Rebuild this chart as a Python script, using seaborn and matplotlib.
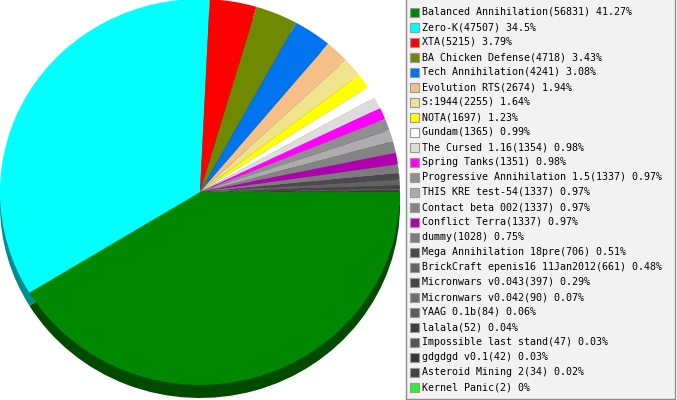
import numpy as np
import matplotlib
matplotlib.use("Agg")
import matplotlib.pyplot as plt
import matplotlib.colors as mcolors
from matplotlib.patches import Rectangle
import seaborn as sns

# games and how many times each was played
games = [
    "Balanced Annihilation", "Zero-K", "XTA", "BA Chicken Defense",
    "Tech Annihilation", "Evolution RTS", "S:1944", "NOTA", "Gundam",
    "The Cursed 1.16", "Spring Tanks", "Progressive Annihilation 1.5",
    "THIS KRE test-54", "Contact beta 002", "Conflict Terra", "dummy",
    "Mega Annihilation 18pre", "BrickCraft epenis16 11Jan2012",
    "Micronwars v0.043", "Micronwars v0.042", "YAAG 0.1b", "lalala",
    "Impossible last stand", "gdgdgd v0.1", "Asteroid Mining 2", "Kernel Panic",
]
counts = [
    56831, 47507, 5215, 4718, 4241, 2674, 2255, 1697, 1365, 1354, 1351,
    1337, 1337, 1337, 1337, 1028, 706, 661, 397, 90, 84, 52, 47, 42, 34, 2,
]
colors = [
    "#008800", "#00ffff", "#ff0000", "#6f8a00", "#0073ee", "#f5bf88",
    "#efe38c", "#ffff00", "#ffffff", "#dcdcdc", "#ff00ff", "#8f8f8f",
    "#adadad", "#848484", "#b000b0", "#7c7c7c", "#4a4a4a", "#626262",
    "#464646", "#6e6e6e", "#5c5c5c", "#3e3e3e", "#565656", "#363636",
    "#434343", "#33ee33",
]

sns.set_style("white")
plt.rcParams["font.family"] = ["DejaVu Sans Mono", "DejaVu Sans"]

fig = plt.figure(figsize=(6.77, 4.0), dpi=100)

# pie area: 400x400 px, slightly squashed vertically, with a dark "side"
ax = fig.add_axes([0, 0, 400 / 677, 1])
ry, rx, depth = 193.0, 200.0, 13.0
sy = rx / ry  # data units per px vertically
cx, cy = 200.0, (400 - 192) * sy

shadow = [tuple(np.array(mcolors.to_rgb(c)) * 0.55) for c in colors]
ax.pie(counts, colors=shadow, startangle=0, counterclock=False, radius=rx,
       center=(cx, cy - depth * sy), wedgeprops=dict(linewidth=0))
ax.pie(counts, colors=colors, startangle=0, counterclock=False, radius=rx,
       center=(cx, cy), wedgeprops=dict(linewidth=0))
ax.set_aspect("auto")
ax.set_xlim(0, 400)
ax.set_ylim(0, 400 * sy)
ax.axis("off")

# legend box on the right
lax = fig.add_axes([406 / 677, 1 / 400, 269 / 677, 399 / 400])
lax.set_facecolor("#f2f2f2")
for s in lax.spines.values():
    s.set_color("#8c8c8c")
    s.set_linewidth(1)
lax.spines["top"].set_visible(False)
lax.set_xlim(0, 269)
lax.set_ylim(399, 0)
lax.set_xticks([])
lax.set_yticks([])

total = sum(counts)
for i, (g, n, c) in enumerate(zip(games, counts, colors)):
    y = 12 + 15 * i
    pct = round(n / total * 100, 2)
    lax.add_patch(Rectangle((4, y - 4.5), 9, 9, facecolor=c,
                            edgecolor="#999999", linewidth=0.8))
    lax.text(16, y, f"{g}({n}) {pct:g}%", fontsize=7.2, va="center",
             ha="left", color="black")

fig.savefig("out.png", dpi=100, facecolor="white")
